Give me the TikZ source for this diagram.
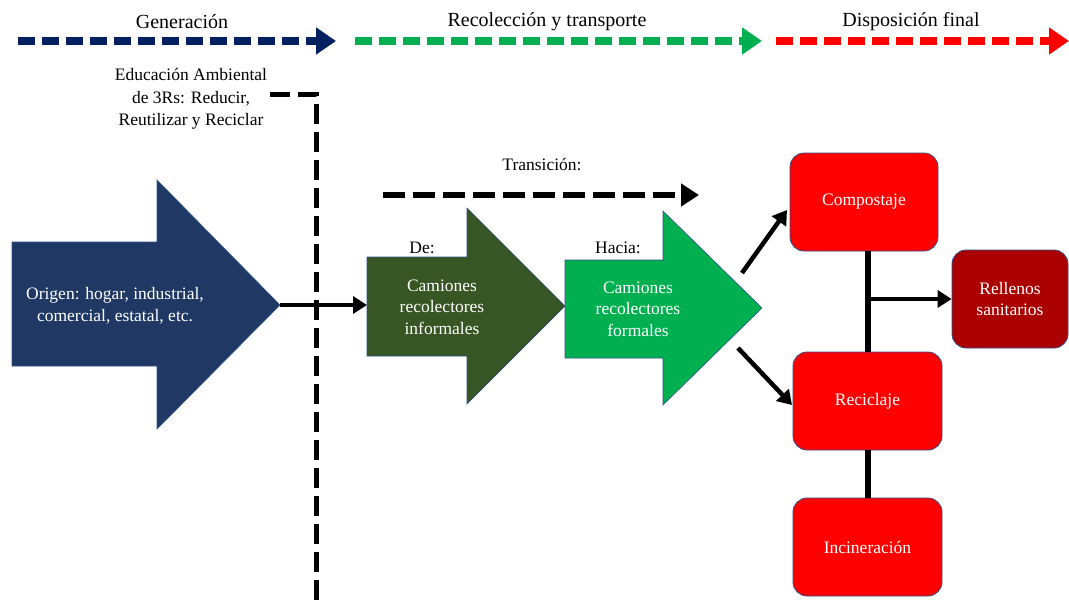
\documentclass[tikz,border=0pt]{standalone}
\usepackage{fontspec}
\IfFontExistsTF{LiberationSerif-Regular.ttf}{\setmainfont{LiberationSerif-Regular.ttf}[BoldFont=LiberationSerif-Bold.ttf,ItalicFont=LiberationSerif-Italic.ttf]}{\IfFontExistsTF{Liberation Serif}{\setmainfont{Liberation Serif}}{}}
\usetikzlibrary{arrows.meta}
\definecolor{navyhdr}{HTML}{002060}
\definecolor{greenhdr}{HTML}{00B050}
\definecolor{redhdr}{HTML}{FF0000}
\definecolor{navyfill}{HTML}{1F3864}
\definecolor{darkgreen}{HTML}{375623}
\definecolor{lightgreen}{HTML}{00B050}
\definecolor{boxred}{HTML}{FF0000}
\definecolor{darkred}{HTML}{AA0000}
\definecolor{bordercol}{HTML}{2F528F}
\begin{document}
\begin{tikzpicture}[x=1pt,y=-1pt,
  body/.style={font=\rmfamily\fontsize{17.5}{21.5}\selectfont, align=center, inner sep=0pt},
  wtext/.style={body, text=white},
  hdr/.style={font=\rmfamily\fontsize{20}{24}\selectfont, inner sep=0pt},
  blockarrow/.style={draw=bordercol, line width=0.6pt},
  rbox/.style={draw=bordercol, line width=0.8pt, rounded corners=14pt, minimum width=148pt, minimum height=98pt, inner sep=0pt, text=white, font=\rmfamily\fontsize{17.5}{21.5}\selectfont, align=center},
  conn/.style={line width=4.5pt, -{Triangle[length=14pt,width=17pt]}},
  phase/.style={line width=8pt, dash pattern=on 17pt off 7pt, -{Triangle[length=20pt,width=26pt]}},
  blackdash/.style={line width=5pt, dash pattern=on 20pt off 8pt}
]
\useasboundingbox (0,0) rectangle (1069,605);

% Header phases
\coordinate (g1) at (18,41);  \coordinate (g2) at (336,41);
\coordinate (r1) at (355,41); \coordinate (r2) at (762,41);
\coordinate (d1) at (776,41); \coordinate (d2) at (1069,41);
\draw[phase, navyhdr] (g1) -- (g2);
\draw[phase, greenhdr] (r1) -- (r2);
\draw[phase, redhdr] (d1) -- (d2);
\node[hdr] (tgen) at (182,22) {Generación};
\node[hdr] (trec) at (547,22) {Recolección y transporte};
\node[hdr] (tdis) at (911,22) {Disposición final};

% Environmental education
\node[body, font=\rmfamily\fontsize{17.5}{22.5}\selectfont] (edu) at (191,99) {Educación Ambiental\\de 3Rs: Reducir,\\Reutilizar y Reciclar};
\coordinate (e1) at (270,94); \coordinate (e2) at (316,94); \coordinate (e3) at (316,606);
\draw[blackdash] (e1) -- (e2) -- (e3);

% Origin block arrow
\filldraw[blockarrow, fill=navyfill] (12,242) -- (157,242) -- (157,180) -- (280,305) -- (157,429) -- (157,366) -- (12,366) -- cycle;
\coordinate (otip) at (280,305);
\node[wtext] (orig) at (115,306) {Origen: hogar, industrial,\\comercial, estatal, etc.};

% Informal trucks
\filldraw[blockarrow, fill=darkgreen] (367,257) -- (467,257) -- (467,208) -- (565,306) -- (467,404) -- (467,356) -- (367,356) -- cycle;
\coordinate (iin) at (367,305);
\coordinate (itip) at (565,306);
\node[wtext] (inf) at (442,307) {Camiones\\recolectores\\informales};
\node[body] (de) at (422,248) {De:};

% Formal trucks
\filldraw[blockarrow, fill=lightgreen] (565,260) -- (663,260) -- (663,211) -- (762,308) -- (663,405) -- (663,358) -- (565,358) -- cycle;
\node[wtext] (for) at (638,309) {Camiones\\recolectores\\formales};
\node[body] (hacia) at (618,248) {Hacia:};

% Transition
\node[body] (trans) at (542,165) {Transición:};
\coordinate (t1) at (383,195); \coordinate (t2) at (699,195);
\draw[line width=6pt, dash pattern=on 22pt off 8pt, -{Triangle[length=18pt,width=22pt]}] (t1) -- (t2);

% Connector origin -> informal
\draw[conn] (otip) -- (iin);

% Final disposal boxes
\node[rbox, fill=boxred] (comp) at (864,202) {Compostaje};
\node[rbox, fill=boxred, minimum width=149pt] (reci) at (867.5,401) {Reciclaje};
\node[rbox, fill=boxred, minimum width=149pt] (inci) at (867.5,547) {Incineración};
\node[rbox, fill=darkred, minimum width=116pt, minimum height=98pt] (rell) at (1010,299) {Rellenos\\sanitarios};

% Vertical links and branch to landfill
\coordinate (vtop) at (868,251);
\coordinate (vmid) at (868,299);
\draw[line width=6pt] (comp.south -| vtop) -- (reci.north -| vtop);
\draw[line width=6pt] (reci.south -| vtop) -- (inci.north -| vtop);
\draw[conn] (vmid) -- (rell.west |- vmid);

% Diagonal arrows from formal trucks
\coordinate (a1) at (742,273); \coordinate (a2) at (787,210);
\coordinate (b1) at (738,348); \coordinate (b2) at (792,405);
\draw[conn] (a1) -- (a2);
\draw[conn] (b1) -- (b2);
\end{tikzpicture}
\end{document}
